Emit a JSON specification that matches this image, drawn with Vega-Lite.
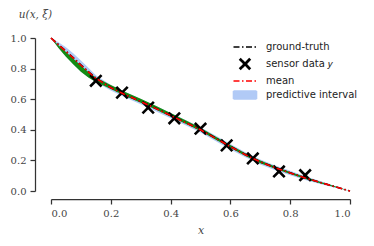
{
  "$schema": "https://vega.github.io/schema/vega-lite/v6.json",
  "width": 299,
  "height": 153,
  "autosize": {"type": "none"},
  "padding": {"left": 51, "top": 38, "right": 24, "bottom": 55},
  "background": "white",
  "config": {
    "view": {"stroke": null},
    "axis": {
      "grid": false,
      "domainColor": "#333333",
      "domainWidth": 1.25,
      "tickColor": "#333333",
      "tickWidth": 1.25,
      "tickSize": 5,
      "labelFont": "DejaVu Serif",
      "labelFontSize": 10,
      "labelColor": "#444444",
      "labelOverlap": false,
      "titleFont": "DejaVu Serif",
      "titleFontStyle": "italic",
      "titleFontWeight": "normal",
      "titleFontSize": 10.5,
      "titleColor": "#444444"
    },
    "legend": {
      "orient": "none",
      "legendX": 189,
      "legendY": 4,
      "padding": 0,
      "symbolOffset": 0,
      "labelOffset": 16,
      "rowPadding": 1,
      "labelFont": "DejaVu Sans",
      "labelFontSize": 10,
      "labelColor": "#222222",
      "symbolSize": 100
    }
  },
  "datasets": {
    "curves": [
      {"x": 0.0, "truth": 1.0, "mean": 1.0, "lo": 1.0, "hi": 1.0, "glo": 1.0, "ghi": 1.0},
      {"x": 0.025, "truth": 0.957, "mean": 0.955, "lo": 0.935, "hi": 0.972, "glo": 0.935, "ghi": 0.953},
      {"x": 0.05, "truth": 0.914, "mean": 0.912, "lo": 0.877, "hi": 0.940, "glo": 0.877, "ghi": 0.908},
      {"x": 0.075, "truth": 0.870, "mean": 0.868, "lo": 0.826, "hi": 0.899, "glo": 0.826, "ghi": 0.864},
      {"x": 0.1, "truth": 0.824, "mean": 0.822, "lo": 0.780, "hi": 0.853, "glo": 0.780, "ghi": 0.820},
      {"x": 0.125, "truth": 0.780, "mean": 0.778, "lo": 0.742, "hi": 0.805, "glo": 0.742, "ghi": 0.778},
      {"x": 0.15, "truth": 0.738, "mean": 0.737, "lo": 0.712, "hi": 0.757, "glo": 0.712, "ghi": 0.742},
      {"x": 0.2, "truth": 0.676, "mean": 0.675, "lo": 0.657, "hi": 0.692, "glo": 0.667, "ghi": 0.692},
      {"x": 0.25, "truth": 0.629, "mean": 0.628, "lo": 0.610, "hi": 0.645, "glo": 0.620, "ghi": 0.646},
      {"x": 0.3, "truth": 0.586, "mean": 0.585, "lo": 0.567, "hi": 0.602, "glo": 0.577, "ghi": 0.603},
      {"x": 0.35, "truth": 0.541, "mean": 0.540, "lo": 0.522, "hi": 0.557, "glo": 0.532, "ghi": 0.558},
      {"x": 0.4, "truth": 0.494, "mean": 0.493, "lo": 0.475, "hi": 0.510, "glo": 0.485, "ghi": 0.510},
      {"x": 0.45, "truth": 0.448, "mean": 0.447, "lo": 0.429, "hi": 0.464, "glo": 0.439, "ghi": 0.462},
      {"x": 0.5, "truth": 0.401, "mean": 0.400, "lo": 0.382, "hi": 0.417, "glo": 0.392, "ghi": 0.414},
      {"x": 0.55, "truth": 0.346, "mean": 0.345, "lo": 0.327, "hi": 0.362, "glo": 0.337, "ghi": 0.357},
      {"x": 0.6, "truth": 0.291, "mean": 0.290, "lo": 0.272, "hi": 0.307, "glo": 0.282, "ghi": 0.300},
      {"x": 0.65, "truth": 0.238, "mean": 0.237, "lo": 0.220, "hi": 0.254, "glo": 0.229, "ghi": 0.247},
      {"x": 0.7, "truth": 0.191, "mean": 0.190, "lo": 0.173, "hi": 0.206, "glo": 0.182, "ghi": 0.199},
      {"x": 0.75, "truth": 0.153, "mean": 0.152, "lo": 0.136, "hi": 0.167, "glo": 0.145, "ghi": 0.160},
      {"x": 0.8, "truth": 0.119, "mean": 0.118, "lo": 0.103, "hi": 0.132, "glo": 0.111, "ghi": 0.125},
      {"x": 0.85, "truth": 0.086, "mean": 0.085, "lo": 0.072, "hi": 0.097, "glo": 0.079, "ghi": 0.091},
      {"x": 0.9, "truth": 0.057, "mean": 0.056, "lo": 0.046, "hi": 0.065, "glo": 0.051, "ghi": 0.061},
      {"x": 0.95, "truth": 0.028, "mean": 0.028, "lo": 0.022, "hi": 0.033, "glo": 0.025, "ghi": 0.031},
      {"x": 1.0, "truth": 0.0, "mean": 0.0, "lo": 0.0, "hi": 0.0, "glo": 0.0, "ghi": 0.0}
    ],
    "sensor": [
      {"x": 0.15, "y": 0.72},
      {"x": 0.2375, "y": 0.643},
      {"x": 0.325, "y": 0.545},
      {"x": 0.4125, "y": 0.475},
      {"x": 0.5, "y": 0.407},
      {"x": 0.5875, "y": 0.298},
      {"x": 0.675, "y": 0.213},
      {"x": 0.7625, "y": 0.128},
      {"x": 0.85, "y": 0.103}
    ]
  },
  "encoding": {
    "x": {
      "type": "quantitative",
      "scale": {"domain": [0, 1], "nice": false, "zero": false},
      "axis": {
        "values": [0, 0.2, 0.4, 0.6, 0.8, 1.0],
        "format": ".1f",
        "offset": 8,
        "labelPadding": 4,
        "labelFont": "DejaVu Serif",
        "title": "x",
        "titlePadding": 6,
        "titleFontSize": 11
      }
    },
    "y": {
      "type": "quantitative",
      "scale": {"domain": [0, 1], "nice": false},
      "axis": {
        "values": [0, 0.2, 0.4, 0.6, 0.8, 1.0],
        "format": ".1f",
        "offset": 16,
        "labelPadding": 4,
        "labelFont": "DejaVu Serif",
        "title": "u(x, ξ)",
        "titleAngle": 0,
        "titleAlign": "center",
        "titleBaseline": "middle",
        "titleX": 0,
        "titleY": -24
      }
    },
    "color": {
      "type": "nominal",
      "scale": {
        "domain": ["ground-truth", "sensor data 𝑦", "mean", "predictive interval"],
        "range": ["#000000", "#000000", "#ff0000", "#b1caf6"]
      },
      "legend": {
        "title": null,
        "encode": {
          "symbols": {
            "update": {
              "shape": {"signal": "datum.value === 'predictive interval' ? 'M-2.3,-0.8H2.3V0.8H-2.3Z' : ((datum.value === 'mean' || datum.value === 'ground-truth') ? 'M-2.3,0H2.3' : 'M-1.05,-1.05L1.05,1.05M-1.05,1.05L1.05,-1.05')"},
              "size": {"value": 100},
              "fill": {"signal": "datum.value === 'predictive interval' ? '#b1caf6' : 'transparent'"},
              "stroke": {"signal": "datum.value === 'mean' ? '#ff0000' : (datum.value === 'predictive interval' ? 'transparent' : '#000000')"},
              "strokeWidth": {"signal": "(datum.value === 'mean' || datum.value === 'ground-truth' || datum.value === 'predictive interval') ? 1.6 : 2.8"},
              "strokeDash": {"signal": "(datum.value === 'mean' || datum.value === 'ground-truth') ? [6, 2.5, 1.5, 2.5] : [1, 0]"},
              "opacity": {"value": 1},
              "fillOpacity": {"value": 1},
              "strokeOpacity": {"value": 1}
            }
          }
        }
      }
    }
  },
  "layer": [
    {
      "data": {"name": "curves"},
      "mark": {"type": "area", "opacity": 1},
      "encoding": {
        "x": {"field": "x", "type": "quantitative"},
        "y": {"field": "lo", "type": "quantitative"},
        "y2": {"field": "hi"},
        "color": {"datum": "predictive interval", "type": "nominal"}
      }
    },
    {
      "data": {"name": "curves"},
      "mark": {"type": "area", "color": "#148c14", "opacity": 1},
      "encoding": {
        "x": {"field": "x", "type": "quantitative"},
        "y": {"field": "glo", "type": "quantitative"},
        "y2": {"field": "ghi"},
        "color": {"value": "#148c14"}
      }
    },
    {
      "data": {"name": "curves"},
      "mark": {"type": "line", "strokeWidth": 1.6, "strokeDash": [6, 2.5, 1.5, 2.5]},
      "encoding": {
        "x": {"field": "x", "type": "quantitative"},
        "y": {"field": "truth", "type": "quantitative"},
        "color": {"datum": "ground-truth", "type": "nominal"}
      }
    },
    {
      "data": {"name": "sensor"},
      "mark": {"type": "point", "shape": "M-1,-1L1,1M-1,1L1,-1", "size": 130, "filled": false, "strokeWidth": 2.6, "opacity": 1},
      "encoding": {
        "x": {"field": "x", "type": "quantitative"},
        "y": {"field": "y", "type": "quantitative"},
        "color": {"datum": "sensor data 𝑦", "type": "nominal"}
      }
    },
    {
      "data": {"name": "curves"},
      "mark": {"type": "line", "strokeWidth": 1.6, "strokeDash": [6, 2.5, 1.5, 2.5]},
      "encoding": {
        "x": {"field": "x", "type": "quantitative"},
        "y": {"field": "mean", "type": "quantitative"},
        "color": {"datum": "mean", "type": "nominal"}
      }
    }
  ]
}
